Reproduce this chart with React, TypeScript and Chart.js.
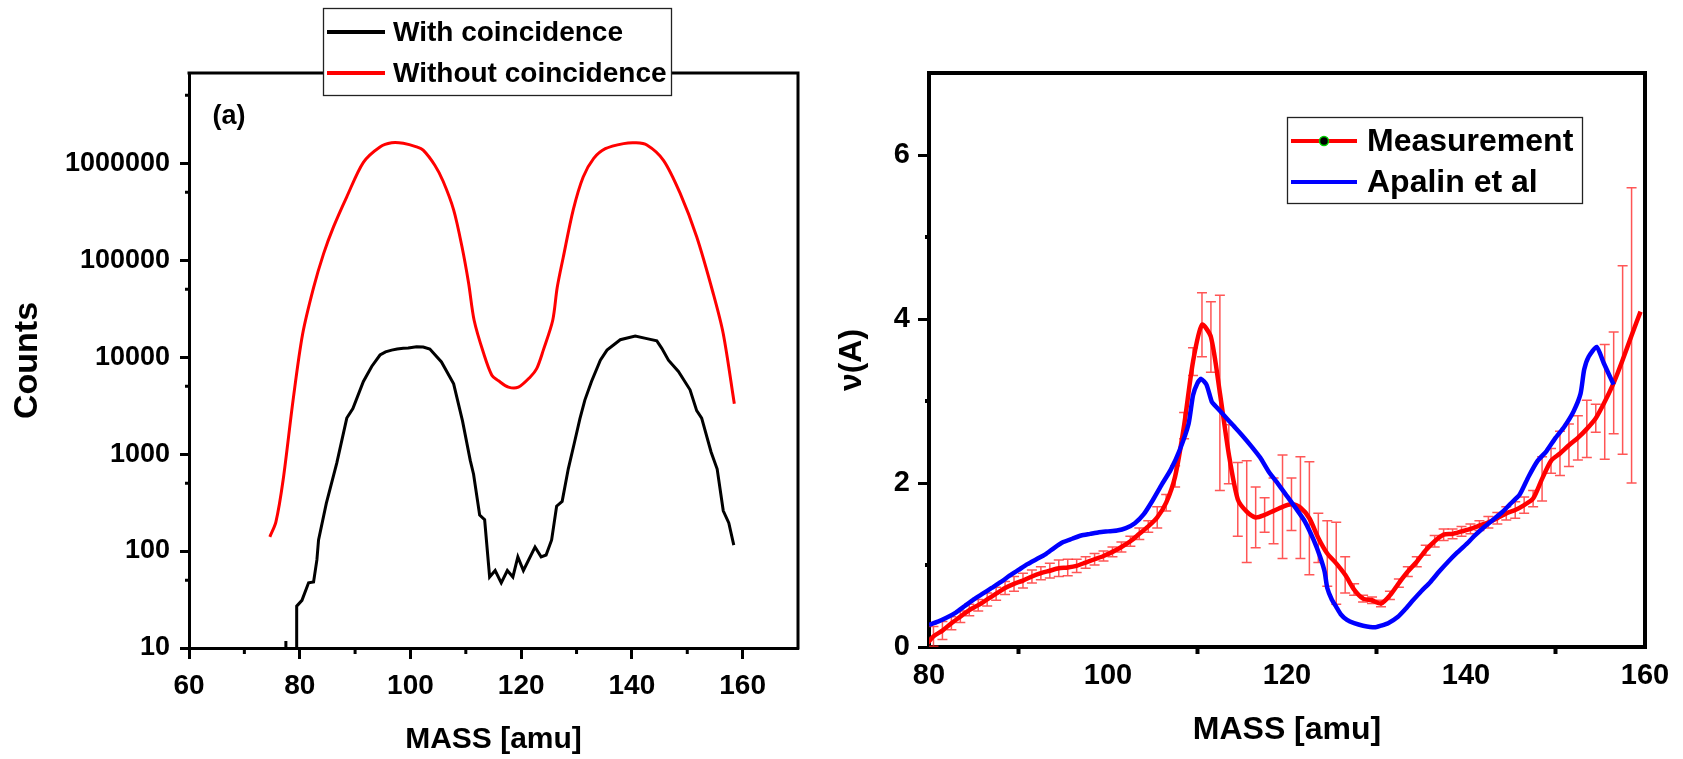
import React, { useEffect, useRef } from "react";
import { Chart, registerables } from "chart.js";
Chart.register(...registerables);

// ---------------- Left panel (a): counts vs mass ----------------
const massWithout = [74.6, 75.7, 77.0, 78.8, 80.5, 82.5, 84.3, 86.1, 88.5, 91.5, 94.5, 96.6, 98.7, 101.1, 102.3, 104.4, 105.9, 107.8, 109.3, 110.5, 111.5, 113.2, 114.7, 115.9, 117.7, 119.5, 121.6, 122.8, 124.0, 125.7, 126.5, 127.6, 129.4, 131.2, 133.1, 135.2, 138.5, 140.6, 142.7, 145.7, 148.7, 151.7, 154.7, 156.5, 158.5];
const countsWithout = [140, 200, 540, 3600, 17000, 52000, 116000, 220000, 450000, 1020000, 1470000, 1620000, 1600000, 1470000, 1360000, 950000, 650000, 330000, 138000, 58000, 24000, 11000, 6500, 5700, 4900, 4900, 6200, 7600, 11800, 24000, 52000, 107000, 330000, 720000, 1120000, 1410000, 1590000, 1620000, 1540000, 1070000, 490000, 174000, 45000, 17400, 3300];

const massWith = [77.4, 77.5, 77.6, 79.35, 79.45, 80.4, 81.6, 82.5, 83.1, 83.4, 84.8, 86.7, 88.5, 89.6, 91.5, 93.0, 94.5, 95.5, 96.6, 97.6, 98.7, 99.6, 101.1, 102.3, 103.5, 105.6, 107.8, 109.4, 110.8, 111.4, 112.5, 113.4, 114.3, 115.3, 116.4, 117.5, 118.5, 119.4, 120.4, 122.5, 123.6, 124.5, 125.5, 126.4, 127.4, 128.5, 129.6, 130.6, 131.5, 132.7, 134.3, 135.5, 137.9, 140.6, 142.7, 144.5, 145.4, 146.6, 148.4, 150.5, 151.7, 152.6, 154.3, 155.4, 156.5, 157.5, 158.4];
const countsWith = [1, 11.8, 1, 1, 27, 31, 47, 48, 81, 130, 310, 810, 2350, 2950, 5600, 8000, 10500, 11300, 11800, 12100, 12300, 12400, 12800, 12700, 12100, 8900, 5300, 2200, 860, 620, 235, 210, 54, 63, 47, 63, 54, 87, 63, 110, 87, 91, 130, 290, 325, 700, 1300, 2300, 3600, 5600, 9300, 11800, 15100, 16500, 15500, 14700, 12300, 9300, 7100, 4600, 2800, 2350, 1050, 700, 260, 195, 115];

const leftXTicks = [60, 80, 100, 120, 140, 160];
const leftXMinor = [70, 90, 110, 130, 150];
const leftYTicks = [10, 100, 1000, 10000, 100000, 1000000];
const leftYMinor = [50, 500, 5000, 50000, 500000, 5000000];

// ---------------- Right panel: nu(A) vs mass ----------------
const measMass = [79.5, 80.5, 81.5, 82.5, 83.5, 84.5, 85.5, 86.5, 87.5, 88.5, 89.5, 90.5, 91.5, 92.5, 93.5, 94.5, 95.5, 96.5, 97.5, 98.5, 99.5, 100.5, 101.5, 102.5, 103.5, 104.5, 105.5, 106.5, 107.5, 108.5, 109.5, 110.5, 111.5, 112.5, 113.5, 114.5, 115.5, 116.5, 117.5, 118.5, 119.5, 120.5, 121.5, 122.5, 123.5, 124.5, 125.5, 126.5, 127.5, 128.5, 129.5, 130.5, 131.5, 132.5, 133.5, 134.5, 135.5, 136.5, 137.5, 138.5, 139.5, 140.5, 141.5, 142.5, 143.5, 144.5, 145.5, 146.5, 147.5, 148.5, 149.5, 150.5, 151.5, 152.5, 153.5, 154.5, 155.5, 156.5, 157.5, 158.5, 159.5];
const measValue = [0.0, 0.13, 0.2, 0.29, 0.37, 0.45, 0.51, 0.58, 0.65, 0.72, 0.77, 0.81, 0.86, 0.9, 0.93, 0.96, 0.97, 0.99, 1.03, 1.07, 1.11, 1.16, 1.22, 1.29, 1.38, 1.47, 1.58, 1.76, 2.08, 2.7, 3.48, 3.93, 3.78, 3.1, 2.35, 1.8, 1.65, 1.58, 1.61, 1.66, 1.71, 1.74, 1.7, 1.57, 1.33, 1.14, 1.02, 0.88, 0.7, 0.59, 0.57, 0.53, 0.63, 0.78, 0.92, 1.04, 1.18, 1.29, 1.37, 1.38, 1.41, 1.44, 1.48, 1.52, 1.57, 1.63, 1.67, 1.73, 1.81, 2.05, 2.27, 2.36, 2.46, 2.55, 2.66, 2.79, 2.99, 3.22, 3.5, 3.8, 4.09];
const measError = [0.12, 0.12, 0.11, 0.08, 0.07, 0.07, 0.07, 0.08, 0.08, 0.08, 0.09, 0.09, 0.08, 0.08, 0.09, 0.1, 0.1, 0.08, 0.07, 0.07, 0.06, 0.06, 0.06, 0.06, 0.07, 0.07, 0.13, 0.1, 0.13, 0.16, 0.17, 0.39, 0.43, 1.19, 0.36, 0.45, 0.62, 0.37, 0.21, 0.4, 0.63, 0.32, 0.62, 0.69, 0.3, 0.4, 0.5, 0.22, 0.07, 0.04, 0.04, 0.04, 0.05, 0.05, 0.06, 0.06, 0.06, 0.07, 0.07, 0.06, 0.06, 0.06, 0.06, 0.07, 0.07, 0.08, 0.1, 0.1, 0.1, 0.27, 0.15, 0.27, 0.26, 0.27, 0.35, 0.17, 0.7, 0.62, 1.15, 1.8, 0];

const apalinMass = [80, 81, 82, 83, 84, 85, 86, 87, 88, 89, 90, 91, 92, 93, 94, 95, 96, 97, 98, 99, 100, 101, 102, 103, 104, 105, 106, 107, 108, 109, 109.5, 110, 110.4, 111, 111.6, 112, 113, 114, 115, 116, 117, 118, 119, 120, 121, 122, 123, 123.7, 124.2, 124.5, 125, 125.5, 126, 126.7, 127.5, 128.5, 129.8, 130.5, 131.3, 132.4, 133.2, 134, 135, 136, 137, 138, 139, 140, 141, 142, 143, 144, 145, 146, 147, 148, 149, 150, 151, 152, 152.8, 153.2, 153.7, 154.6, 155.4, 156.5];
const apalinValue = [0.27, 0.31, 0.36, 0.42, 0.5, 0.58, 0.65, 0.72, 0.79, 0.87, 0.94, 1.01, 1.07, 1.13, 1.21, 1.28, 1.32, 1.36, 1.38, 1.4, 1.41, 1.42, 1.45, 1.51, 1.62, 1.79, 1.98, 2.16, 2.4, 2.72, 3.07, 3.22, 3.27, 3.2, 2.99, 2.94, 2.82, 2.7, 2.58, 2.45, 2.31, 2.13, 1.99, 1.84, 1.69, 1.53, 1.3, 1.1, 0.92, 0.72, 0.58, 0.49, 0.4, 0.33, 0.29, 0.26, 0.24, 0.26, 0.29, 0.37, 0.46, 0.56, 0.68, 0.79, 0.92, 1.04, 1.15, 1.25, 1.36, 1.46, 1.55, 1.64, 1.75, 1.86, 2.08, 2.27, 2.39, 2.55, 2.69, 2.87, 3.09, 3.38, 3.54, 3.66, 3.46, 3.2];

const rightXTicks = [80, 100, 120, 140, 160];
const rightXMinor = [90, 110, 130, 150];
const rightYTicks = [0, 2, 4, 6];
const rightYMinor = [1, 3, 5];

const SANS = "'Liberation Sans', Arial, sans-serif";

type LegendItem = { label: string; color: string; marker?: boolean };

function decorPlugin(opts: {
  frameWidth: number;
  xMinor: number[];
  yMinor: number[];
  xMinorLen: number;
  yMinorLen: number;
  legend: { x: number; y: number; w: number; h: number; rows: number[]; lineX0: number; lineX1: number; textX: number; font: string; items: LegendItem[] };
  extra?: (ctx: CanvasRenderingContext2D) => void;
  errors?: { mass: number[]; value: number[]; err: number[] };
}) {
  return {
    id: "decor",
    beforeDatasetsDraw(chart: any) {
      if (!opts.errors) return;
      const { ctx, chartArea } = chart;
      const xs = chart.scales.x;
      const ys = chart.scales.y;
      ctx.save();
      ctx.beginPath();
      ctx.rect(chartArea.left, chartArea.top, chartArea.right - chartArea.left, chartArea.bottom - chartArea.top);
      ctx.clip();
      ctx.strokeStyle = "rgba(255,30,30,0.75)";
      ctx.lineWidth = 1.5;
      const { mass, value, err } = opts.errors;
      for (let i = 0; i < mass.length; i++) {
        if (!err[i]) continue;
        const x = xs.getPixelForValue(mass[i]);
        const yt = ys.getPixelForValue(value[i] + err[i]);
        const yb = ys.getPixelForValue(value[i] - err[i]);
        ctx.beginPath();
        ctx.moveTo(x, yt);
        ctx.lineTo(x, yb);
        ctx.moveTo(x - 5, yt);
        ctx.lineTo(x + 5, yt);
        ctx.moveTo(x - 5, yb);
        ctx.lineTo(x + 5, yb);
        ctx.stroke();
      }
      ctx.restore();
    },
    afterDatasetsDraw(chart: any) {
      const { ctx, chartArea } = chart;
      const { left, right, top, bottom } = chartArea;
      const w = opts.frameWidth;
      ctx.save();
      ctx.strokeStyle = "#000";
      ctx.lineWidth = w;
      ctx.lineCap = "square";
      ctx.beginPath();
      ctx.moveTo(left, top);
      ctx.lineTo(right, top);
      ctx.lineTo(right, bottom);
      ctx.stroke();
      // minor ticks
      ctx.lineCap = "butt";
      const xs = chart.scales.x;
      const ys = chart.scales.y;
      ctx.beginPath();
      for (const v of opts.xMinor) {
        const px = xs.getPixelForValue(v);
        ctx.moveTo(px, bottom);
        ctx.lineTo(px, bottom + opts.xMinorLen);
      }
      for (const v of opts.yMinor) {
        const py = ys.getPixelForValue(v);
        ctx.moveTo(left, py);
        ctx.lineTo(left - opts.yMinorLen, py);
      }
      ctx.stroke();
      ctx.restore();
    },
    afterDraw(chart: any) {
      const { ctx } = chart;
      const L = opts.legend;
      ctx.save();
      ctx.fillStyle = "#fff";
      ctx.fillRect(L.x, L.y, L.w, L.h);
      ctx.strokeStyle = "#222";
      ctx.lineWidth = 1.3;
      ctx.strokeRect(L.x, L.y, L.w, L.h);
      L.items.forEach((it, i) => {
        const y = L.rows[i];
        ctx.strokeStyle = it.color;
        ctx.lineWidth = 4;
        ctx.beginPath();
        ctx.moveTo(L.lineX0, y);
        ctx.lineTo(L.lineX1, y);
        ctx.stroke();
        if (it.marker) {
          ctx.beginPath();
          ctx.arc((L.lineX0 + L.lineX1) / 2, y, 4.5, 0, Math.PI * 2);
          ctx.fillStyle = "#000";
          ctx.fill();
          ctx.strokeStyle = "#00d000";
          ctx.lineWidth = 1.5;
          ctx.stroke();
        }
        ctx.fillStyle = "#000";
        ctx.font = L.font;
        ctx.textAlign = "left";
        ctx.textBaseline = "middle";
        ctx.fillText(it.label, L.textX, y + 1);
      });
      if (opts.extra) opts.extra(ctx);
      ctx.restore();
    },
  };
}

function LeftChart() {
  const ref = useRef<HTMLCanvasElement>(null);
  useEffect(() => {
    const chart = new Chart(ref.current!, {
      type: "line",
      data: {
        datasets: [
          {
            label: "With coincidence",
            data: massWith.map((m, i) => ({ x: m, y: countsWith[i] })),
            borderColor: "#000",
            borderWidth: 3,
            pointRadius: 0,
            tension: 0,
          },
          {
            label: "Without coincidence",
            data: massWithout.map((m, i) => ({ x: m, y: countsWithout[i] })),
            borderColor: "#ff0000",
            borderWidth: 3,
            pointRadius: 0,
            tension: 0.3,
          },
        ],
      },
      options: {
        responsive: false,
        animation: false,
        layout: { padding: { top: 73, right: 42, left: 0, bottom: 0 } },
        plugins: { legend: { display: false }, tooltip: { enabled: false } },
        scales: {
          x: {
            type: "linear",
            min: 60,
            max: 170,
            afterBuildTicks: (s: any) => {
              s.ticks = leftXTicks.map((v) => ({ value: v }));
            },
            afterFit: (s: any) => {
              s.height = 111;
            },
            border: { display: true, color: "#000", width: 3 },
            grid: { drawOnChartArea: false, drawTicks: true, tickLength: 11, tickWidth: 3, tickColor: "#000" },
            ticks: { color: "#000", padding: 10, maxRotation: 0, font: { family: SANS, size: 28, weight: "bold", lineHeight: 1.2 } },
            title: { display: true, text: "MASS [amu]", color: "#000", padding: { top: 0, bottom: 4 }, font: { family: SANS, size: 30, weight: "bold", lineHeight: 1 } },
          },
          y: {
            type: "logarithmic",
            min: 10,
            max: 8500000,
            afterBuildTicks: (s: any) => {
              s.ticks = leftYTicks.map((v) => ({ value: v }));
            },
            afterFit: (s: any) => {
              s.width = 189;
            },
            border: { display: true, color: "#000", width: 3 },
            grid: { drawOnChartArea: false, drawTicks: true, tickLength: 9, tickWidth: 3, tickColor: "#000" },
            ticks: { color: "#000", padding: 10, callback: (v: any) => String(v), font: { family: SANS, size: 27, weight: "bold", lineHeight: 1.2 } },
            title: { display: true, text: "Counts", color: "#000", padding: { top: 7, bottom: 0 }, font: { family: SANS, size: 34, weight: "bold", lineHeight: 1.2 } },
          },
        },
      },
      plugins: [
        decorPlugin({
          frameWidth: 3,
          xMinor: leftXMinor,
          yMinor: leftYMinor,
          xMinorLen: 6,
          yMinorLen: 4,
          legend: {
            x: 323.5,
            y: 8.5,
            w: 348,
            h: 87,
            rows: [32, 73],
            lineX0: 327,
            lineX1: 385,
            textX: 393,
            font: `bold 28px ${SANS}`,
            items: [
              { label: "With coincidence", color: "#000" },
              { label: "Without coincidence", color: "#ff0000" },
            ],
          },
          extra: (ctx) => {
            ctx.fillStyle = "#000";
            ctx.font = `bold 27px ${SANS}`;
            ctx.textAlign = "center";
            ctx.textBaseline = "middle";
            ctx.fillText("(a)", 229, 117);
          },
        }) as any,
      ],
    } as any);
    return () => chart.destroy();
  }, []);
  return <canvas ref={ref} width={840} height={759} style={{ position: "absolute", left: 0, top: 0, width: 840, height: 759 }} />;
}

function RightChart() {
  const ref = useRef<HTMLCanvasElement>(null);
  useEffect(() => {
    const chart = new Chart(ref.current!, {
      type: "line",
      data: {
        datasets: [
          {
            label: "Apalin et al",
            data: apalinMass.map((m, i) => ({ x: m, y: apalinValue[i] })),
            borderColor: "#0000ff",
            borderWidth: 4.5,
            pointRadius: 0,
            tension: 0.2,
          },
          {
            label: "Measurement",
            data: measMass.map((m, i) => ({ x: m, y: measValue[i] })),
            borderColor: "#ff0000",
            borderWidth: 4.5,
            pointRadius: 0,
            tension: 0.25,
          },
        ],
      },
      options: {
        responsive: false,
        animation: false,
        layout: { padding: { top: 73, right: 38, left: 0, bottom: 0 } },
        plugins: { legend: { display: false }, tooltip: { enabled: false } },
        scales: {
          x: {
            type: "linear",
            min: 80,
            max: 160,
            afterBuildTicks: (s: any) => {
              s.ticks = rightXTicks.map((v) => ({ value: v }));
            },
            afterFit: (s: any) => {
              s.height = 112;
            },
            border: { display: true, color: "#000", width: 4 },
            grid: { drawOnChartArea: false, drawTicks: true, tickLength: 8, tickWidth: 3, tickColor: "rgba(0,0,0,0)" },
            ticks: { color: "#000", padding: 4, maxRotation: 0, font: { family: SANS, size: 29, weight: "bold", lineHeight: 1.2 } },
            title: { display: true, text: "MASS [amu]", color: "#000", padding: { top: 0, bottom: 13 }, font: { family: SANS, size: 32, weight: "bold", lineHeight: 1 } },
          },
          y: {
            type: "linear",
            min: 0,
            max: 7,
            afterBuildTicks: (s: any) => {
              s.ticks = rightYTicks.map((v) => ({ value: v }));
            },
            afterFit: (s: any) => {
              s.width = 109;
            },
            border: { display: true, color: "#000", width: 4 },
            grid: { drawOnChartArea: false, drawTicks: true, tickLength: 11, tickWidth: 3, tickColor: "#000" },
            ticks: { color: "#000", padding: 8, font: { family: SANS, size: 29, weight: "bold", lineHeight: 1.2 } },
            title: { display: true, text: "ν(A)", color: "#000", padding: { top: 16, bottom: 0 }, font: { family: SANS, size: 32, weight: "bold", lineHeight: 1 } },
          },
        },
      },
      plugins: [
        decorPlugin({
          frameWidth: 4,
          xMinor: rightXMinor,
          yMinor: rightYMinor,
          xMinorLen: 7,
          yMinorLen: 4,
          errors: { mass: measMass, value: measValue, err: measError },
          legend: {
            x: 467.5,
            y: 117.5,
            w: 295,
            h: 86,
            rows: [141, 182],
            lineX0: 471,
            lineX1: 537,
            textX: 547,
            font: `bold 32px ${SANS}`,
            items: [
              { label: "Measurement", color: "#ff0000", marker: true },
              { label: "Apalin et al", color: "#0000ff" },
            ],
          },
        }) as any,
      ],
    } as any);
    return () => chart.destroy();
  }, []);
  return <canvas ref={ref} width={863} height={759} style={{ position: "absolute", left: 820, top: 0, width: 863, height: 759 }} />;
}

export default function App() {
  return (
    <div style={{ position: "absolute", left: 0, top: 0, width: 1683, height: 759, background: "#fff", overflow: "hidden" }}>
      <LeftChart />
      <RightChart />
    </div>
  );
}
